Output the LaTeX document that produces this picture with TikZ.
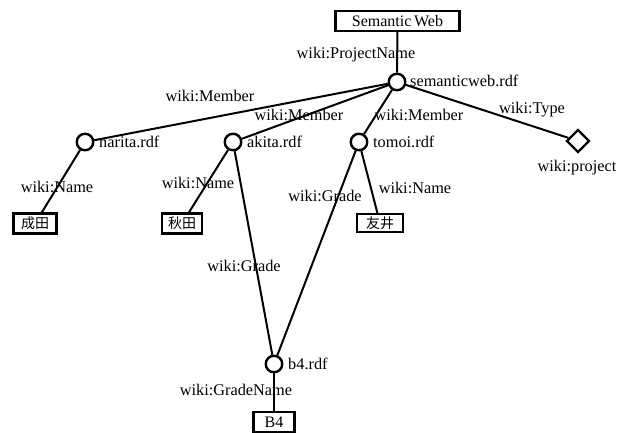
\documentclass[tikz,border=0pt]{standalone}
\usepackage{fontspec}
\setmainfont{Liberation Serif}
\newfontfamily\jpfont{Noto Sans CJK JP}
\usetikzlibrary{shapes.geometric}
\tikzset{
  res/.style={circle, draw, line width=2.4pt, minimum size=16.5pt, inner sep=0pt},
  lit/.style={rectangle, draw, line width=2.4pt, inner sep=0pt, minimum height=20pt, font=\fontsize{16}{16}\selectfont},
  jlit/.style={lit, font=\jpfont\fontsize{14}{14}\selectfont},
  cls/.style={diamond, draw, line width=2.4pt, minimum size=23pt, inner sep=0pt},
  prop/.style={font=\fontsize{16.3}{16}\selectfont, inner sep=0pt},
  rname/.style={font=\fontsize{16.3}{16}\selectfont, inner sep=0pt, anchor=west},
  edge/.style={line width=2pt}
}
\begin{document}
\begin{tikzpicture}[x=1pt, y=-1pt]
  \useasboundingbox (0,0) rectangle (627,433);

  % resources
  \node[res] (sw) at (397,82) {};
  \node[res] (narita) at (85,142) {};
  \node[res] (akita) at (233,142) {};
  \node[res] (tomoi) at (359,142) {};
  \node[res] (b4) at (274,364) {};
  \node[cls] (project) at (578,141) {};

  % resource names
  \node[rname] (swname) at (410,81) {semanticweb.rdf};
  \node[rname] (naritaname) at (99,142) {narita.rdf};
  \node[rname] (akitaname) at (247,142) {akita.rdf};
  \node[rname] (tomoiname) at (373,142) {tomoi.rdf};
  \node[rname] (b4name) at (288,364) {b4.rdf};
  \node[prop] (projectname) at (577,168) {wiki:project};

  % literals
  \node[lit, minimum width=124pt] (lsw) at (397.5,21) {Semantic\,Web};
  \node[jlit, minimum width=43pt] (lnarita) at (35,223.5) {成田};
  \node[jlit, minimum width=40pt] (lakita) at (182,223.5) {秋田};
  \node[jlit, minimum width=46pt, minimum height=18pt] (ltomoi) at (380,223) {友井};
  \node[lit, minimum width=41pt] (lb4) at (274,422) {B4};

  % properties
  \draw[edge] (sw) -- (lsw);
  \draw[edge] (sw) -- (narita);
  \draw[edge] (sw) -- (akita);
  \draw[edge] (sw) -- (tomoi);
  \draw[edge] (sw) -- (project);
  \draw[edge] (narita) -- (lnarita);
  \draw[edge] (akita) -- (lakita);
  \draw[edge] (akita) -- (b4);
  \draw[edge] (tomoi) -- (b4);
  \draw[edge] (tomoi) -- (ltomoi);
  \draw[edge] (b4) -- (lb4);

  % property labels
  \node[prop] (pproject) at (356,55) {wiki:ProjectName};
  \node[prop] (pm1) at (210,96) {wiki:Member};
  \node[prop] (pm2) at (299,115) {wiki:Member};
  \node[prop] (pm3) at (419,115) {wiki:Member};
  \node[prop] (ptype) at (532,110) {wiki:Type};
  \node[prop] (pn1) at (57,187) {wiki:Name};
  \node[prop] (pn2) at (198,183) {wiki:Name};
  \node[prop] (pg1) at (244,266) {wiki:Grade};
  \node[prop] (pg2) at (325,196) {wiki:Grade};
  \node[prop] (pn3) at (415,188) {wiki:Name};
  \node[prop] (pgn) at (236,390) {wiki:GradeName};
\end{tikzpicture}
\end{document}
